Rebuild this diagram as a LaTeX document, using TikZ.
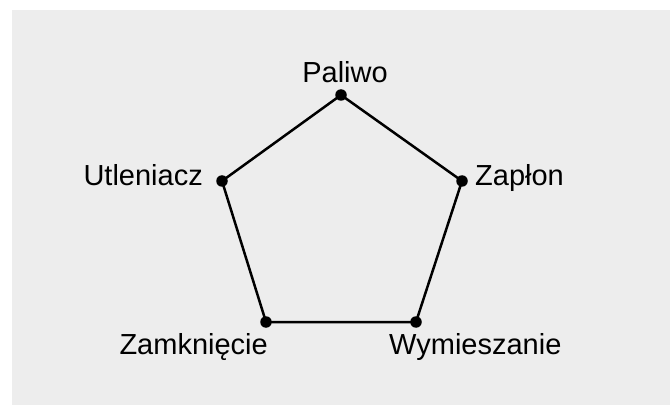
\documentclass[tikz,border=0pt]{standalone}
\usepackage{fontspec}
\setmainfont{Liberation Sans}
\definecolor{bggrey}{HTML}{EDEDED}
\begin{document}
\begin{tikzpicture}[x=1pt,y=1pt,
  vertex/.style={circle,fill=black,inner sep=0pt,minimum size=11.5pt},
  lbl/.style={inner sep=0pt,font=\fontsize{29}{34}\selectfont},
  edge/.style={line width=2.5pt}]
\useasboundingbox (0,0) rectangle (670,405);
\fill[bggrey] (12,0) rectangle (670,395);
\coordinate (P) at (341,310);
\coordinate (Z) at (462,224);
\coordinate (W) at (416,83);
\coordinate (M) at (266,83);
\coordinate (U) at (222,224);
\draw[edge,line join=round] (P) -- (Z) -- (W) -- (M) -- (U) -- cycle;
\foreach \v in {P,Z,W,M,U} \node[vertex] (d\v) at (\v) {};
\node[lbl,anchor=base] (lP) at (345,322) {Paliwo};
\node[lbl,anchor=base east] (lU) at (203,219) {Utleniacz};
\node[lbl,anchor=base west] (lZ) at (475,219) {Zapłon};
\node[lbl,anchor=base east] (lM) at (268,51) {Zamknięcie};
\node[lbl,anchor=base west] (lW) at (389,51) {Wymieszanie};
\end{tikzpicture}
\end{document}
